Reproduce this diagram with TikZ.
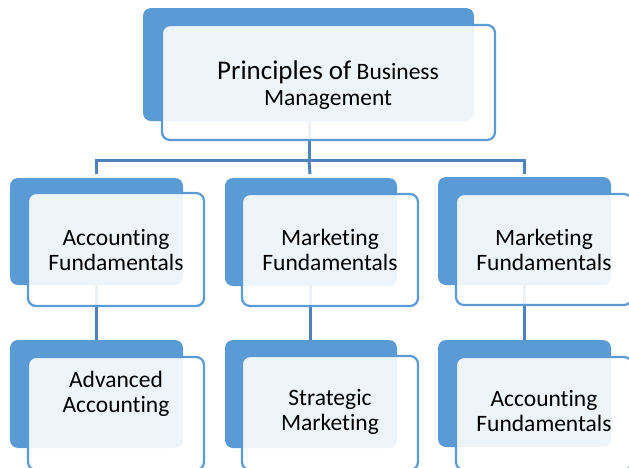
\documentclass[tikz,border=0pt]{standalone}
\usepackage{fontspec}
\setmainfont{Carlito}[Ligatures=NoCommon]
\definecolor{dk}{HTML}{5B9BD5}
\definecolor{ln}{HTML}{4F81BD}
\begin{document}
\begin{tikzpicture}[x=1pt,y=-1pt,
  darkbox/.style={fill=dk,rounded corners=8pt},
  lightbox/.style={draw=dk,line width=2.2pt,fill=white,fill opacity=0.9,draw opacity=1,rounded corners=8pt},
  conn/.style={draw=ln,line width=3pt},
  lbl/.style={align=center,text=black,font=\fontsize{23.5}{25}\selectfont,inner sep=0pt}]
\useasboundingbox (0,0) rectangle (629,467);
\begin{scope}
\clip (0,0) rectangle (629,467);
% connectors
\coordinate (hl) at (96,160);
\coordinate (hr) at (524,160);
\coordinate (hm) at (309,160);
\coordinate (t) at (309,121);
\coordinate (c1) at (96,174);
\coordinate (c2) at (310,174);
\coordinate (c3) at (524,174);
\coordinate (d1a) at (96,285);
\coordinate (d1b) at (96,340);
\coordinate (d2a) at (310,286);
\coordinate (d2b) at (310,340);
\coordinate (d3a) at (524,285);
\coordinate (d3b) at (524,340);
\draw[conn] (t) -- (hm);
\draw[conn] (c1) -- (hl) -- (hr) -- (c3);
\draw[conn] (hm) -- (c2);
\draw[conn] (d1a) -- (d1b);
\draw[conn] (d2a) -- (d2b);
\draw[conn] (d3a) -- (d3b);
% dark boxes
\fill[darkbox] (143,8) rectangle (474,121);
\fill[darkbox] (10,178) rectangle (183,285);
\fill[darkbox] (225,178) rectangle (397,286);
\fill[darkbox] (438,177) rectangle (611,285);
\fill[darkbox] (10,340) rectangle (183,448);
\fill[darkbox] (225,340) rectangle (397,448);
\fill[darkbox] (438,340) rectangle (611,447);
% light boxes
\path[lightbox] (162,25) rectangle (495,140);
\path[lightbox] (28,193) rectangle (204,306);
\path[lightbox] (242,194) rectangle (418,306);
\path[lightbox] (456,194) rectangle (632,305);
\path[lightbox] (28,357) rectangle (204,470);
\path[lightbox] (242,356) rectangle (418,470);
\path[lightbox] (456,357) rectangle (632,470);
\end{scope}
% labels
\node[lbl,font=\fontsize{23.5}{25.5}\selectfont] (top) at (328,85) {{\fontsize{27}{25.5}\selectfont Principles of} Business\\Management};
\node[lbl] (a1) at (116,250) {Accounting\\Fundamentals};
\node[lbl] (a2) at (330,250) {Marketing\\Fundamentals};
\node[lbl] (a3) at (544,250) {Marketing\\Fundamentals};
\node[lbl] (b1) at (116,394) {Advanced\\Accounting};
\node[lbl] (b2) at (330,412) {Strategic\\Marketing};
\node[lbl] (b3) at (544,411) {Accounting\\Fundamentals};
\end{tikzpicture}
\end{document}
